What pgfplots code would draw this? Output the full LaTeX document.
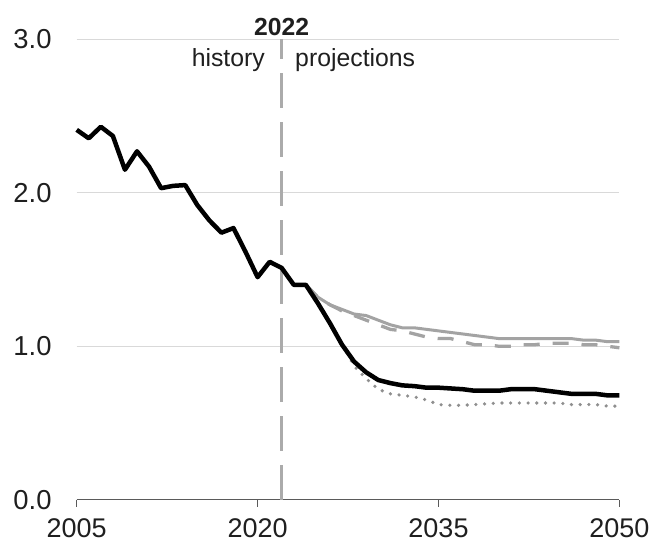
\documentclass[border=0pt]{standalone}
\usepackage{fontspec}
\setmainfont{Liberation Sans}
\usepackage{pgfplots}
\pgfplotsset{compat=1.18}
\definecolor{gridc}{HTML}{D9D9D9}
\definecolor{linegray}{HTML}{A3A3A3}
\definecolor{dotgray}{HTML}{8F8F8F}
\definecolor{vgray}{HTML}{ABABAB}
\definecolor{axisc}{HTML}{5A5A5A}
\definecolor{txt}{HTML}{1F1F1F}
\begin{document}
\begin{tikzpicture}
\useasboundingbox (-76.7pt,-44.3pt) rectangle (578.3pt,499.7pt);
\begin{axis}[
  scale only axis,
  width=542.7pt, height=460.4pt,
  xmin=2005, xmax=2050, ymin=0, ymax=3,
  clip=false,
  axis x line*=bottom,
  axis y line*=left,
  y axis line style={draw=none},
  x axis line style={draw=axisc, line width=1.5pt},
  xtick={2005,2020,2035,2050},
  xticklabels={2005,2020,2035,2050},
  ytick={0,1,2,3},
  yticklabels={0.0,1.0,2.0,3.0},
  tick align=outside,
  major tick length=7pt,
  xtick style={draw=axisc, line width=1.5pt},
  ytick style={draw=none},
  ymajorgrids,
  grid style={draw=gridc, line width=1.3pt},
  xticklabel style={font=\fontsize{27}{30}\selectfont, text=txt, anchor=north, inner sep=0pt, yshift=-12pt},
  yticklabel style={font=\fontsize{27.4}{30}\selectfont, text=txt, anchor=east, inner sep=0pt, xshift=-18pt},
]
\addplot[color=vgray, line width=3pt, dash pattern=on 35pt off 14pt] coordinates {(2022,0) (2022,3)};
\addplot[color=dotgray, line width=3.6pt, line cap=round, dash pattern=on 0pt off 8.7pt] coordinates {
(2026,1.15) (2027,1.02) (2028,0.87) (2029,0.79) (2030,0.72) (2031,0.69) (2032,0.68) (2033,0.67) (2034,0.65) (2035,0.62)
(2036,0.615) (2037,0.615) (2038,0.62) (2039,0.625) (2040,0.63) (2041,0.63) (2042,0.63) (2043,0.63) (2044,0.63) (2045,0.63)
(2046,0.62) (2047,0.62) (2048,0.62) (2049,0.61) (2050,0.61)};
\addplot[color=linegray, line width=3.3pt, dash pattern=on 16pt off 13pt] coordinates {
(2024,1.40) (2025,1.32) (2026,1.27) (2027,1.23) (2028,1.20) (2029,1.17) (2030,1.14) (2031,1.11) (2032,1.10) (2033,1.08)
(2034,1.06) (2035,1.05) (2036,1.05) (2037,1.03) (2038,1.01) (2039,1.01) (2040,1.00) (2041,1.00) (2042,1.01) (2043,1.01)
(2044,1.02) (2045,1.02) (2046,1.02) (2047,1.01) (2048,1.01) (2049,1.00) (2050,0.99)};
\addplot[color=linegray, line width=3pt] coordinates {
(2024,1.40) (2025,1.32) (2026,1.27) (2027,1.24) (2028,1.21) (2029,1.20) (2030,1.17) (2031,1.14) (2032,1.12) (2033,1.12)
(2034,1.11) (2035,1.10) (2036,1.09) (2037,1.08) (2038,1.07) (2039,1.06) (2040,1.05) (2041,1.05) (2042,1.05) (2043,1.05)
(2044,1.05) (2045,1.05) (2046,1.05) (2047,1.04) (2048,1.04) (2049,1.03) (2050,1.03)};
\addplot[color=black, line width=4.5pt, line join=round] coordinates {
(2005,2.41) (2006,2.355) (2007,2.43) (2008,2.37) (2009,2.15) (2010,2.27) (2011,2.17) (2012,2.03) (2013,2.045) (2014,2.05)
(2015,1.92) (2016,1.82) (2017,1.74) (2018,1.77) (2019,1.615) (2020,1.45) (2021,1.55) (2022,1.51) (2023,1.40) (2024,1.40)
(2025,1.28) (2026,1.15) (2027,1.01) (2028,0.90) (2029,0.83) (2030,0.78) (2031,0.76) (2032,0.745) (2033,0.74) (2034,0.73)
(2035,0.73) (2036,0.725) (2037,0.72) (2038,0.71) (2039,0.71) (2040,0.71) (2041,0.72) (2042,0.72) (2043,0.72) (2044,0.71)
(2045,0.70) (2046,0.69) (2047,0.69) (2048,0.69) (2049,0.68) (2050,0.68)};
\node[anchor=base, inner sep=0pt, text=txt, font=\fontsize{24.7}{28}\selectfont\bfseries, yshift=3.4pt] at (axis cs:2022,3) {2022};
\node[anchor=base east, inner sep=0pt, text=txt, font=\fontsize{24.8}{28}\selectfont, xshift=-16.7pt] at (axis cs:2022,2.826) {history};
\node[anchor=base west, inner sep=0pt, text=txt, font=\fontsize{24.8}{28}\selectfont, xshift=13.3pt] at (axis cs:2022,2.826) {projections};
\end{axis}
\end{tikzpicture}
\end{document}
